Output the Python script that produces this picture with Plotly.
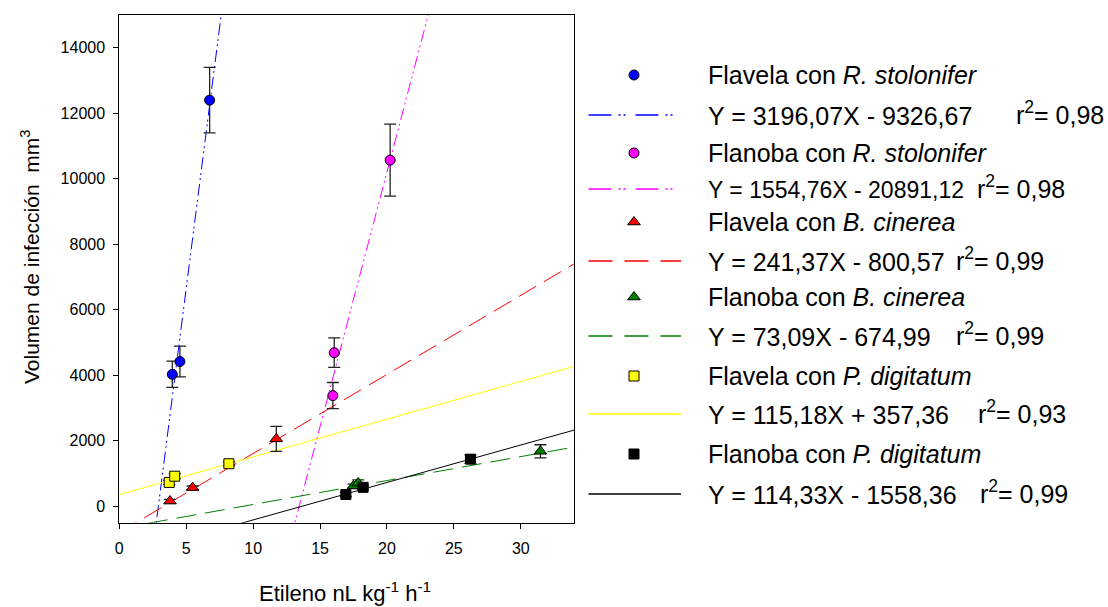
import plotly.graph_objects as go

# --- measured points: ethylene (nL kg-1 h-1) vs infection volume (mm3) ---
flavela_rs_x = [3.96, 4.53, 6.75]
flavela_rs_y = [4030, 4420, 12400]
flavela_rs_err = [400, 470, 1000]

flanoba_rs_x = [15.96, 16.06, 20.24]
flanoba_rs_y = [3380, 4690, 10570]
flanoba_rs_err = [400, 450, 1100]

flavela_bc_x = [3.79, 5.48, 11.73]
flavela_bc_y = [160, 570, 2060]
flavela_bc_err = [50, 50, 380]

flanoba_bc_x = [17.50, 17.85, 31.47]
flanoba_bc_y = [620, 710, 1680]
flanoba_bc_err = [60, 100, 200]

flavela_pd_x = [3.73, 4.14, 8.19]
flavela_pd_y = [730, 920, 1300]
flavela_pd_err = [60, 80, 60]

flanoba_pd_x = [16.93, 18.22, 26.24]
flanoba_pd_y = [360, 580, 1440]
flanoba_pd_err = [60, 60, 130]

# --- linear fits ---
slopes = [3196.07, 1554.76, 241.37, 73.09, 115.18, 114.33]
intercepts = [-9326.67, -20891.12, -800.57, -674.99, 357.36, -1558.36]
r_squared = [0.98, 0.98, 0.99, 0.99, 0.93, 0.99]

series_names = [
    "Flavela con <i>R. stolonifer</i>",
    "Flanoba con <i>R. stolonifer</i>",
    "Flavela con <i>B. cinerea</i>",
    "Flanoba con <i>B. cinerea</i>",
    "Flavela con <i>P. digitatum</i>",
    "Flanoba con <i>P. digitatum</i>",
]

x_ticks = [0, 5, 10, 15, 20, 25, 30]
y_ticks = [0, 2000, 4000, 6000, 8000, 10000, 12000, 14000]

# --- styling ---
X_RANGE = [0, 34]
Y_RANGE = [-500, 15000]
W, H = 1108, 607
FONT = "Liberation Sans, Arial, sans-serif"

colors = ["#0000ff", "#ff00ff", "#ff0000", "#008000", "#ffff00", "#000000"]
symbols = ["circle", "circle", "triangle-up", "triangle-up", "square", "square"]
msizes = [10, 10, 11, 11, 10, 10]
plot_dash = ["12px,4px,2px,3px,2px,4px", "12px,4px,2px,3px,2px,4px",
             "20px,9px", "20px,9px", "solid", "solid"]
legend_dash = ["23px,7px,2px,3px,2px,10px", "23px,7px,2px,3px,2px,10px",
               "24px,12px", "24px,12px", "solid", "solid"]

points = [
    (flavela_rs_x, flavela_rs_y, flavela_rs_err),
    (flanoba_rs_x, flanoba_rs_y, flanoba_rs_err),
    (flavela_bc_x, flavela_bc_y, flavela_bc_err),
    (flanoba_bc_x, flanoba_bc_y, flanoba_bc_err),
    (flavela_pd_x, flavela_pd_y, flavela_pd_err),
    (flanoba_pd_x, flanoba_pd_y, flanoba_pd_err),
]


def dec(v):
    return f"{v:.2f}".replace(".", ",")


fig = go.Figure()

# regression lines over the full x range (clipped by the axes)
for i in range(6):
    xs = list(X_RANGE)
    ys = [slopes[i] * x + intercepts[i] for x in xs]
    fig.add_trace(go.Scatter(
        x=xs, y=ys, mode="lines", showlegend=False, hoverinfo="skip",
        line=dict(color=colors[i], width=1, dash=plot_dash[i]),
    ))

# data points with error bars
for i, (xs, ys, es) in enumerate(points):
    fig.add_trace(go.Scatter(
        x=xs, y=ys, mode="markers", showlegend=False, cliponaxis=False,
        marker=dict(symbol=symbols[i], size=msizes[i], color=colors[i],
                    line=dict(color="black", width=1)),
        error_y=dict(type="data", array=es, visible=True, color="#222222",
                     thickness=1.3, width=6),
    ))

# --- hand-built key on a pixel-scaled overlay axis ---
LX0 = 0.525 * W
name_y = [75, 153, 222, 297, 376, 454]
eq_y = [115, 189, 261, 336, 414, 494]
r2_x = [1014, 975, 954, 954, 976, 978]
eq_size = [25, 23, 25, 25, 25, 25]
marker_x = 634
line_x = [588.5, 681]
text_x = 706

for i in range(6):
    fig.add_trace(go.Scatter(
        x=[marker_x], y=[name_y[i]], xaxis="x2", yaxis="y2", mode="markers",
        showlegend=False, hoverinfo="skip", cliponaxis=False,
        marker=dict(symbol=symbols[i], size=msizes[i], color=colors[i],
                    line=dict(color="black", width=1)),
    ))
    fig.add_trace(go.Scatter(
        x=line_x, y=[eq_y[i], eq_y[i]], xaxis="x2", yaxis="y2", mode="lines",
        showlegend=False, hoverinfo="skip",
        line=dict(color=colors[i], width=1.3, dash=legend_dash[i]),
    ))

annotations = []
for i in range(6):
    annotations.append(dict(
        x=text_x / W, y=1 - name_y[i] / H, xref="paper", yref="paper",
        text=series_names[i], showarrow=False, xanchor="left", yanchor="middle",
        font=dict(family=FONT, size=25, color="black"),
    ))
    sign = "-" if intercepts[i] < 0 else "+"
    annotations.append(dict(
        x=text_x / W, y=1 - (eq_y[i] + 1) / H, xref="paper", yref="paper",
        text=f"Y = {dec(slopes[i])}X {sign} {dec(abs(intercepts[i]))}",
        showarrow=False, xanchor="left", yanchor="middle",
        font=dict(family=FONT, size=eq_size[i], color="black"),
    ))
    annotations.append(dict(
        x=r2_x[i] / W, y=1 - (eq_y[i] - 2) / H, xref="paper", yref="paper",
        text=f"r<sup>2</sup>= {dec(r_squared[i])}",
        showarrow=False, xanchor="left", yanchor="middle",
        font=dict(family=FONT, size=25, color="black"),
    ))

# axis titles
annotations.append(dict(
    x=345 / W, y=1 - 592 / H, xref="paper", yref="paper",
    text="Etileno nL kg<sup>-1</sup> h<sup>-1</sup>", showarrow=False,
    xanchor="center", yanchor="middle",
    font=dict(family=FONT, size=22, color="black"),
))
annotations.append(dict(
    x=30 / W, y=1 - 257 / H, xref="paper", yref="paper",
    text="Volumen de infección  mm<sup>3</sup>", showarrow=False, textangle=-90,
    xanchor="center", yanchor="middle",
    font=dict(family=FONT, size=21, color="black"),
))

axis_common = dict(
    showgrid=False, zeroline=False, showline=True, mirror=True,
    linecolor="black", linewidth=1, ticks="outside", ticklen=5,
    tickcolor="black", tickwidth=1, tickformat="d",
    tickfont=dict(family=FONT, size=16, color="black"),
)

fig.update_layout(
    width=W, height=H,
    margin=dict(l=0, r=0, t=0, b=0, pad=0),
    paper_bgcolor="white", plot_bgcolor="rgba(0,0,0,0)",
    showlegend=False,
    xaxis=dict(domain=[119.3 / W, 574.3 / W], range=X_RANGE,
               tickvals=x_ticks, automargin=False, ticklabelstandoff=6,
               **axis_common),
    yaxis=dict(domain=[(H - 522.7) / H, (H - 15) / H], range=Y_RANGE,
               tickvals=y_ticks, automargin=False, ticklabelstandoff=5,
               **axis_common),
    xaxis2=dict(domain=[0.525, 1.0], range=[LX0, W], visible=False,
                anchor="y2", fixedrange=True),
    yaxis2=dict(domain=[0, 1], range=[H, 0], visible=False,
                anchor="x2", fixedrange=True),
    annotations=annotations,
)

fig.write_html("out.html")
